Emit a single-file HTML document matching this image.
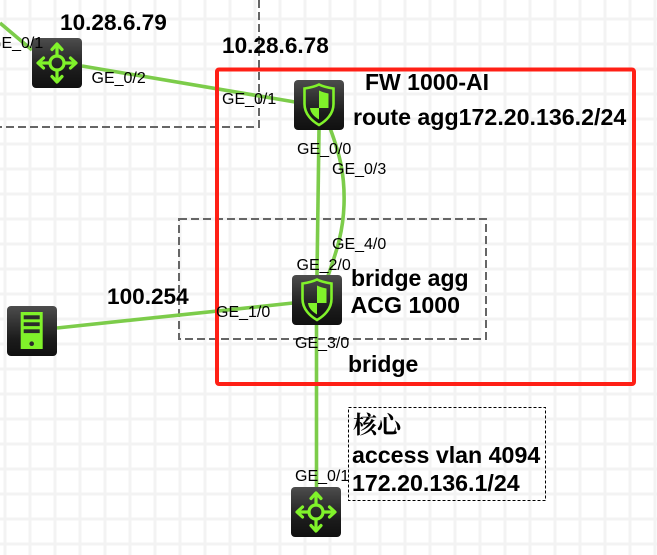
<!DOCTYPE html>
<html>
<head>
<meta charset="utf-8">
<style>
html,body{margin:0;padding:0;background:#fff;width:657px;height:555px;overflow:hidden}
svg{display:block}
text{font-family:"Liberation Sans","Noto Sans CJK SC",sans-serif;fill:#000}
.b{font-weight:bold;font-size:23px}
.l{font-size:16px}
</style>
</head>
<body>
<svg width="657" height="555" viewBox="0 0 657 555" xmlns="http://www.w3.org/2000/svg">
<defs>
<linearGradient id="g" x1="0" y1="0" x2="0" y2="1">
<stop offset="0" stop-color="#4d4d4d"/>
<stop offset="0.65" stop-color="#1c1c1c"/>
<stop offset="1" stop-color="#101010"/>
</linearGradient>
<pattern id="grid" width="25" height="25" patternUnits="userSpaceOnUse" x="5" y="19">
<rect x="-1.5" y="0" width="3" height="25" fill="#f3f3f3"/>
<rect x="23.5" y="0" width="3" height="25" fill="#f3f3f3"/>
<rect x="0" y="-1.5" width="25" height="3" fill="#f3f3f3"/>
<rect x="0" y="23.5" width="25" height="3" fill="#f3f3f3"/>
</pattern>
<g id="sw">
<rect width="50" height="50" rx="4" fill="url(#g)"/>
<g fill="none" stroke="#80f22a" stroke-width="3.200" stroke-linecap="round" stroke-linejoin="round">
<circle cx="25" cy="25" r="7"/>
<path d="M25 18V6.500M20 11.500L25 6L30 11.500"/>
<path d="M25 32V43.500M20 38.500L25 44L30 38.500"/>
<path d="M18 25H6.500M11.500 20L6 25L11.500 30"/>
<path d="M32 25H43.500M38.500 20L44 25L38.500 30"/>
</g>
</g>
<g id="fw">
<rect width="50" height="50" rx="4" fill="url(#g)"/>
<path d="M25 4.500C30 7 36 8 39.500 8.500V24C39.500 34 32 41 25 45C18 41 10.500 34 10.500 24V8.500C14 8 20 7 25 4.500Z" fill="none" stroke="#80f22a" stroke-width="2.600"/>
<path d="M25 10.500C28 12 31.500 13 34.500 13.500V28H25Z" fill="#80f22a"/>
<path d="M16 28H25V39.500C20 36.500 16.500 33 16 28Z" fill="#80f22a"/>
</g>
<g id="sv">
<rect width="50" height="50" rx="4" fill="url(#g)"/>
<rect x="13.700" y="6" width="22" height="37" fill="#80f22a"/>
<rect x="16.700" y="9.300" width="16" height="4" fill="#2b2b2b"/>
<rect x="16.700" y="16.300" width="16" height="3.800" fill="#2b2b2b"/>
<rect x="16.700" y="23.300" width="16" height="3.800" fill="#2b2b2b"/>
<circle cx="24.700" cy="37.700" r="2.300" fill="#2b2b2b"/>
</g>
</defs>

<rect width="657" height="555" fill="#fff"/>
<rect width="657" height="555" fill="url(#grid)"/>

<!-- gray dashed zones -->
<path d="M259 0V127H0" fill="none" stroke="#666" stroke-width="2" stroke-dasharray="8 4"/>
<rect x="179" y="219" width="307" height="120" fill="none" stroke="#666" stroke-width="2" stroke-dasharray="8 4"/>

<!-- links -->
<g fill="none" stroke="#7ccc4a" stroke-width="3.600">
<path d="M0 23L32 50"/>
<path d="M82 66L295 102"/>
<path d="M57 328L293 303"/>
<path d="M319 130L317 275"/>
<path d="M330 128C340 155 345 175 344 205C343 235 335 255 328 276"/>
<path d="M316.500 325V487"/>
</g>

<!-- red frame -->
<rect x="217" y="69.500" width="417" height="314.500" rx="2" fill="none" stroke="#ff2016" stroke-width="4"/>

<!-- devices -->
<use href="#sw" x="32" y="38"/>
<use href="#fw" x="294" y="80"/>
<use href="#fw" x="292" y="275"/>
<use href="#sv" x="7" y="306"/>
<use href="#sw" x="291" y="487"/>

<!-- note box -->
<rect x="348.500" y="407.500" width="197" height="93" fill="none" stroke="#000" stroke-width="1" stroke-dasharray="3 2"/>

<!-- port labels -->
<text class="l" x="-11" y="48">GE_0/1</text>
<text class="l" x="91.500" y="83">GE_0/2</text>
<text class="l" x="222" y="104">GE_0/1</text>
<text class="l" x="297" y="154">GE_0/0</text>
<text class="l" x="332" y="174">GE_0/3</text>
<text class="l" x="332" y="249">GE_4/0</text>
<text class="l" x="296.500" y="270">GE_2/0</text>
<text class="l" x="216" y="317">GE_1/0</text>
<text class="l" x="295" y="348">GE_3/0</text>
<text class="l" x="295" y="481">GE_0/1</text>

<!-- bold labels -->
<text class="b" x="60" y="30" style="font-size:22.600px">10.28.6.79</text>
<text class="b" x="222" y="53" style="font-size:22.600px">10.28.6.78</text>
<text class="b" x="365" y="90">FW 1000-AI</text>
<text class="b" x="353" y="125" style="font-size:23.200px">route agg172.20.136.2/24</text>
<text class="b" x="351" y="286">bridge agg</text>
<text class="b" x="350.500" y="313" style="font-size:23.200px">ACG 1000</text>
<text class="b" x="348" y="372">bridge</text>
<text class="b" x="107" y="304" style="font-size:22.600px">100.254</text>
<text x="353" y="433" style="font-family:'Liberation Serif','Noto Serif CJK SC',serif;font-weight:bold;font-size:24px">核心</text>
<text class="b" x="352" y="463" style="font-size:23.200px">access vlan 4094</text>
<text class="b" x="352" y="491" style="font-size:23.200px">172.20.136.1/24</text>
</svg>
</body>
</html>
